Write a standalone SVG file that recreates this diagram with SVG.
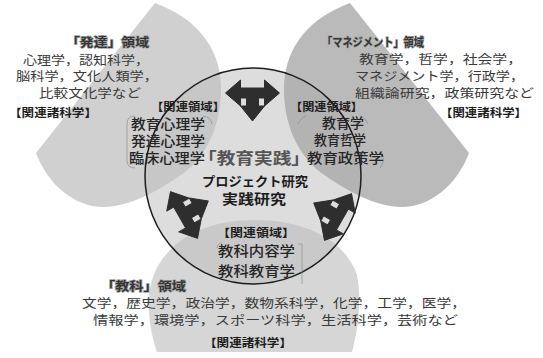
<svg xmlns="http://www.w3.org/2000/svg" width="543" height="358" viewBox="0 0 543 358">
<defs>
<style>
text{font-family:"Noto Sans CJK JP","Noto Sans CJK SC",sans-serif}
.title{font-weight:700;font-size:12px;fill:#353535;stroke:#a8a8a8;stroke-width:1.4px;paint-order:stroke}
.body{font-weight:400;font-size:12.5px;fill:#3a3a3a}
.rel{font-weight:700;font-size:11px;fill:#1e1e1e}
.inner{font-weight:500;font-size:13.5px;fill:#252525}
.strong{font-weight:700;fill:#1c1c1c}
.frame{fill:none;stroke:#8c8c8c;stroke-width:0.7}
.arrow{fill:#2e2e2e;stroke:#2e2e2e;stroke-width:1;stroke-linejoin:round}
</style>
<path id="pTL" d="M155,3 L36,153 C48,185 75,207 103,207 C130,207 160,190 185,172 C210,152 222,120 221,85 C219,45 195,18 155,3 Z"/>
<path id="pTR" d="M350,3 L469,153 C457,185 430,207 402,207 C375,207 345,190 320,172 C295,152 283,120 284,85 C286,45 310,18 350,3 Z"/>
<path id="pB" d="M157,352 C149,330 146,300 152,280 C165,240 205,220 255,220 C305,220 345,240 357,275 C362,300 358,330 352,352 Z"/>
<clipPath id="inCircle"><circle cx="253" cy="176" r="108"/></clipPath>
<path id="tri" d="M-12,-5 L-12,-13 L-27,0 L-12,13 L-12,5 L-6,5 L-6,13 L-12,13 L0,28 L12,13 L6,13 L6,5 L12,5 L12,13 L27,0 L12,-13 L12,-5 Z"/>
</defs>
<rect width="543" height="358" fill="#ffffff"/>

<g id="node-hattatsu-area">
<use href="#pTL" fill="#d0d0d0"/>
</g>
<g id="node-management-area">
<use href="#pTR" fill="#bababa"/>
</g>
<g id="node-kyouka-area">
<use href="#pB" fill="#d6d6d6"/>
</g>

<g id="node-jissen">
<circle cx="253" cy="176" r="108" fill="#dddddd"/>
<g clip-path="url(#inCircle)">
<use href="#pTL" fill="#c7c7c7"/>
<use href="#pTR" fill="#b3b3b3"/>
<use href="#pB" fill="#c9c9c9"/>
</g>
<circle cx="253" cy="176" r="108" fill="none" stroke="#1c1c1c" stroke-width="1.5"/>
</g>

<g id="connectors">
<use href="#tri" class="arrow" transform="translate(252.5,93)"/>
<use href="#tri" class="arrow" transform="translate(184,215) rotate(-120)"/>
<use href="#tri" class="arrow" transform="translate(338,217) rotate(120)"/>
</g>

<g id="frames">
<path class="frame" d="M135,116 Q127,116 127,124 L127,160 Q127,168 135,168"/>
<path class="frame" d="M203,116 Q211,117 212,124"/>
<path class="frame" d="M306,116 Q300,118 298,124"/>
<path class="frame" d="M360,116 Q366,118 368,124"/>
<path class="frame" d="M381,152 Q386,160 380,168"/>
<path class="frame" d="M222,243 Q218,243 217,248"/>
<path class="frame" d="M298,244 L302,244 L302,284"/>
</g>

<g id="text-hattatsu">
<text class="title" x="66" y="47" textLength="83" lengthAdjust="spacingAndGlyphs">「発達」領域</text>
<text class="body" x="23" y="65" textLength="126" lengthAdjust="spacingAndGlyphs">心理学，認知科学，</text>
<text class="body" x="16" y="81" textLength="142" lengthAdjust="spacingAndGlyphs">脳科学，文化人類学，</text>
<text class="body" x="39" y="98" textLength="102" lengthAdjust="spacingAndGlyphs">比較文化学など</text>
<text class="rel" x="9" y="117" textLength="88" lengthAdjust="spacingAndGlyphs">【関連諸科学】</text>
</g>

<g id="text-management">
<text class="title" x="322" y="47" textLength="102" lengthAdjust="spacingAndGlyphs">「マネジメント」領域</text>
<text class="body" x="359" y="64" textLength="163" lengthAdjust="spacingAndGlyphs">教育学，哲学，社会学，</text>
<text class="body" x="355" y="81" textLength="169" lengthAdjust="spacingAndGlyphs">マネジメント学，行政学，</text>
<text class="body" x="355" y="98" textLength="179" lengthAdjust="spacingAndGlyphs">組織論研究，政策研究など</text>
<text class="rel" x="440" y="117" textLength="87" lengthAdjust="spacingAndGlyphs">【関連諸科学】</text>
</g>

<g id="text-kyouka">
<text class="title" x="101" y="291" textLength="85" lengthAdjust="spacingAndGlyphs">「教科」領域</text>
<text class="body" x="82" y="308" textLength="384" lengthAdjust="spacingAndGlyphs">文学，歴史学，政治学，数物系科学，化学，工学，医学，</text>
<text class="body" x="93" y="325" textLength="365" lengthAdjust="spacingAndGlyphs">情報学，環境学，スポーツ科学，生活科学，芸術など</text>
<text class="rel" x="204" y="347" textLength="88" lengthAdjust="spacingAndGlyphs">【関連諸科学】</text>
</g>

<g id="text-jissen">
<text class="rel" x="151" y="111" textLength="74" lengthAdjust="spacingAndGlyphs">【関連領域】</text>
<text class="inner" x="131" y="129" textLength="74" lengthAdjust="spacingAndGlyphs">教育心理学</text>
<text class="inner" x="131" y="146" textLength="74" lengthAdjust="spacingAndGlyphs">発達心理学</text>
<text class="inner" x="129" y="163" textLength="76" lengthAdjust="spacingAndGlyphs">臨床心理学</text>
<text class="strong" x="198" y="164" font-size="16" style="fill:#555555" textLength="112" lengthAdjust="spacingAndGlyphs">「教育実践」</text>
<text class="rel" x="290" y="111" textLength="73" lengthAdjust="spacingAndGlyphs">【関連領域】</text>
<text class="inner" x="322" y="128" textLength="42" lengthAdjust="spacingAndGlyphs">教育学</text>
<text class="inner" x="314" y="145" textLength="52" lengthAdjust="spacingAndGlyphs">教育哲学</text>
<text class="inner" x="307" y="163" textLength="77" lengthAdjust="spacingAndGlyphs">教育政策学</text>
<text class="strong" x="202" y="186" font-size="13" textLength="106" lengthAdjust="spacingAndGlyphs">プロジェクト研究</text>
<text class="strong" x="222" y="204" font-size="14" textLength="64" lengthAdjust="spacingAndGlyphs">実践研究</text>
<text class="rel" x="217" y="237" textLength="78" lengthAdjust="spacingAndGlyphs">【関連領域】</text>
<text class="inner" x="218" y="256" font-size="14.5" textLength="77" lengthAdjust="spacingAndGlyphs">教科内容学</text>
<text class="inner" x="218" y="276" font-size="14.5" textLength="77" lengthAdjust="spacingAndGlyphs">教科教育学</text>
</g>
</svg>
